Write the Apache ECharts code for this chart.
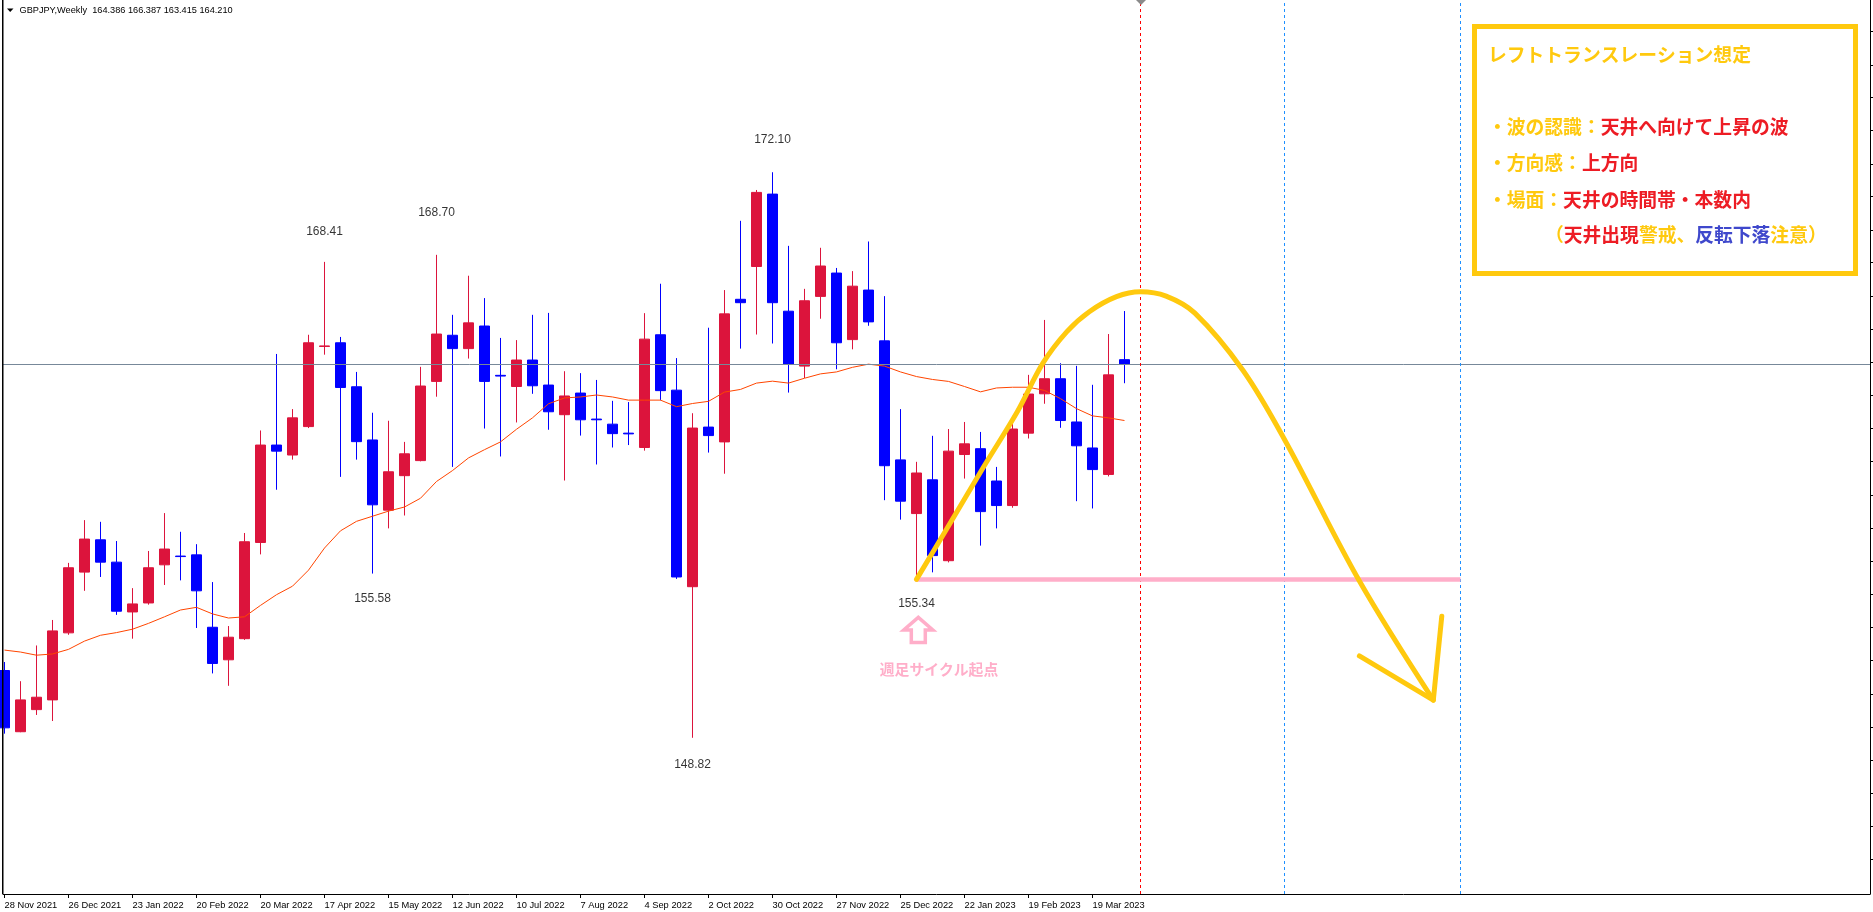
<!DOCTYPE html>
<html><head><meta charset="utf-8">
<script src="https://cdn.jsdelivr.net/npm/echarts@6/dist/echarts.min.js"></script>
<style>html,body{margin:0;padding:0;background:#fff;}#c{width:1873px;height:912px;}</style>
</head><body><div id="c"></div>
<script>
// ---- data (weekly GBPJPY candles, 28 Nov 2021 .. 2 Apr 2023) ----
const opens  = [151.59,149.07,149.98,150.38,153.14,155.64,156.97,156.05,154.00,154.37,155.94,156.30,156.35,153.37,152.03,152.90,156.86,160.87,160.46,161.63,164.93,165.08,163.27,161.08,158.19,159.61,160.23,163.49,165.39,164.84,165.77,163.74,163.28,164.37,163.34,162.12,163.01,161.94,161.73,161.36,160.77,165.41,163.13,155.04,161.61,161.00,166.87,168.22,171.20,166.38,164.12,166.99,167.95,165.21,167.25,165.16,160.26,158.05,159.44,156.11,160.48,160.72,159.39,158.38,161.36,162.98,163.60,161.82,160.75,159.66,164.386];
const highs  = [151.94,151.15,152.62,153.67,156.02,157.78,157.71,156.92,154.98,156.51,158.07,157.30,156.79,155.23,153.42,157.25,161.47,164.62,162.35,165.41,168.41,165.32,163.88,162.20,161.87,161.00,164.09,168.70,166.23,167.84,166.92,165.28,165.19,166.23,166.31,163.91,163.83,163.55,162.69,162.64,166.30,167.51,164.45,162.18,165.70,167.25,170.10,171.37,172.10,169.07,167.30,168.99,168.16,168.03,169.25,167.00,162.35,160.18,161.25,161.53,161.82,161.41,159.97,161.94,163.76,166.02,164.24,164.13,163.35,165.44,166.387];
const lows   = [148.99,149.05,149.76,149.51,153.06,154.87,155.44,153.88,152.90,154.30,155.11,155.30,153.34,151.47,150.96,152.85,156.37,159.03,160.27,161.57,164.59,159.56,160.27,155.58,157.44,157.97,160.20,162.86,159.97,164.43,161.55,160.40,161.80,162.98,161.50,159.41,161.26,160.07,160.77,160.87,160.64,162.71,155.36,148.82,160.56,159.69,164.84,165.42,165.05,163.03,163.63,166.07,163.99,164.81,165.78,158.60,157.80,155.34,155.63,156.04,159.49,156.73,157.44,158.29,161.14,162.57,161.58,158.56,158.26,159.58,163.415];
const closes = [149.23,150.38,150.49,153.22,155.82,157.00,156.05,154.03,154.33,155.82,156.59,156.28,154.87,151.88,152.96,156.89,160.87,160.62,161.99,165.08,164.95,163.24,161.01,158.41,159.77,160.51,163.30,165.44,164.84,165.90,163.49,163.71,164.37,163.31,162.24,162.89,161.91,161.91,161.34,161.33,165.23,163.11,155.44,161.57,161.26,166.27,166.73,171.27,166.73,164.19,166.81,168.24,165.08,167.41,165.94,160.02,158.56,159.72,156.32,160.62,160.92,158.13,158.38,161.53,162.97,163.60,161.88,160.84,159.86,163.76,164.210];
// moving average
const maValues = [152.43,152.35,152.22,152.27,152.46,152.80,153.04,153.15,153.29,153.53,153.80,154.08,154.19,153.92,153.75,153.80,154.27,154.71,155.06,155.72,156.63,157.34,157.73,157.94,158.15,158.32,158.68,159.37,159.82,160.34,160.68,161.00,161.52,161.99,162.57,162.81,162.85,162.93,162.85,162.72,162.72,162.72,162.45,162.58,162.67,163.05,163.16,163.42,163.50,163.42,163.62,163.80,163.88,164.07,164.20,164.12,163.88,163.69,163.57,163.49,163.28,163.06,163.22,163.25,163.25,163.12,162.78,162.37,162.07,161.99,161.88];
const tickIndex  = [0,4,8,12,16,20,24,28,32,36,40,44,48,52,56,60,64,68];
const tickLabels = ['28 Nov 2021','26 Dec 2021','23 Jan 2022','20 Feb 2022','20 Mar 2022','17 Apr 2022','15 May 2022','12 Jun 2022','10 Jul 2022','7 Aug 2022','4 Sep 2022','2 Oct 2022','30 Oct 2022','27 Nov 2022','25 Dec 2022','22 Jan 2023','19 Feb 2023','19 Mar 2023'];
const priceTicks = [177.89,176.52,175.19,173.81,172.44,171.10,169.72,168.38,167.01,165.65,164.28,162.92,161.55,160.19,158.82,157.46,156.09,154.73,153.36,152.00,150.63,149.27,147.90,146.54,145.17,143.81];
const headerText = 'GBPJPY,Weekly  164.386 166.387 163.415 164.210';
const peakIdx   = [20, 27, 48];
const troughIdx = [23, 43, 57];
const lastPrice = 164.210;
const redVLine = 71;
const blueVLines = [80, 91];
// hand-drawn scenario (index, price)
const arcPoints = [[57.0,155.34],[59.1,157.65],[61.2,159.98],[63.3,162.24],[64.9,164.24],[66.4,165.54],[67.8,166.36],[69.5,166.98],[71.0,167.18],[72.6,167.0],[74.4,166.3],[77.4,163.95],[80.0,161.1],[84.7,155.25],[89.3,150.37]];
const arrowHead = [[84.68,152.19],[89.3,150.37],[89.83,153.82]];
const cycleStartIdx = 57;
const supportLine = [[56.9,155.34],[91,155.34]];

// ---- styles ----
const RED='#DC143C', BLUE='#0000FF', GOLD='#FFC90E', PINK='#FFAEC9', TRED='#ED1C24', TBLUE='#3F48CC';
const peakGap = [30.5, 41.8, 32.5];
const troughGap = [25, 26.7, 24.7];
const CJK = '"Noto Sans CJK JP"';

const candleData = opens.map((o,i)=>[i,o,closes[i],lows[i],highs[i]]);
const chart = echarts.init(document.getElementById('c'), null, {renderer:'canvas'});

const option = {
  animation:false,
  backgroundColor:'#fff',
  grid:{left:3,right:3,top:0,bottom:18},
  xAxis:{type:'value',min:-0.09375,max:116.594,
    axisLine:{show:true,onZero:false,lineStyle:{color:'#000',width:1}},
    splitLine:{show:false},
    axisTick:{show:true,customValues:tickIndex,length:4,lineStyle:{color:'#000'}},
    axisLabel:{show:true,customValues:tickIndex,align:'left',margin:7,color:'#000',
      fontFamily:'"Liberation Sans", Arial, sans-serif',fontSize:9.3,
      formatter:(v)=>{const k=tickIndex.indexOf(Math.round(v));return k>=0?tickLabels[k]:'';}}
  },
  yAxis:{type:'value',position:'right',min:142.39,max:179.19,
    axisLine:{show:true,onZero:false,lineStyle:{color:'#000',width:1}},
    splitLine:{show:false},
    axisTick:{show:true,customValues:priceTicks,length:5,lineStyle:{color:'#000'}},
    axisLabel:{show:false}
  },
  series:[
    {type:'line',data:[],z:1,silent:true,
      markLine:{silent:true,symbol:['none','none'],label:{show:false},animation:false,
        data:[
          {yAxis:lastPrice,lineStyle:{color:'#778899',type:'solid',width:1}},
          {xAxis:redVLine,lineStyle:{color:'#FF0000',type:[3,3],width:1}},
          ...blueVLines.map(v=>({xAxis:v,lineStyle:{color:'#1E90FF',type:[3,3],width:1}}))
        ]}
    },
    {type:'candlestick',z:3,barWidth:10,
      dimensions:['idx','open','close','low','high'],
      encode:{x:0,y:[1,2,3,4]},
      data:candleData,
      itemStyle:{color:RED,color0:BLUE,borderColor:RED,borderColor0:BLUE,borderWidth:1}
    },
    {type:'line',z:4,data:maValues.map((v,i)=>[i,v]),showSymbol:false,symbol:'none',
      lineStyle:{color:'#FF4500',width:1},silent:true},
    {type:'line',z:5,data:supportLine,showSymbol:false,symbol:'none',
      lineStyle:{color:PINK,width:4.5},silent:true},
    {type:'line',z:6,data:arcPoints,smooth:0.35,showSymbol:false,symbol:'none',
      lineStyle:{color:GOLD,width:5,cap:'round',join:'round'},silent:true},
    {type:'line',z:6,data:arrowHead,showSymbol:false,symbol:'none',
      lineStyle:{color:GOLD,width:5,cap:'round',join:'round'},silent:true},
    {type:'scatter',z:7,symbolSize:0,silent:true,
      data:peakIdx.map((i,k)=>({value:[i,highs[i]],label:{offset:[0,-peakGap[k]]}})),
      label:{show:true,position:'inside',color:'#000',fontSize:12,fontFamily:'"Liberation Sans", Arial, sans-serif',
        formatter:p=>p.value[1].toFixed(2)}},
    {type:'scatter',z:7,symbolSize:0,silent:true,
      data:troughIdx.map((i,k)=>({value:[i,lows[i]],label:{offset:[0,troughGap[k]]}})),
      label:{show:true,position:'inside',color:'#000',fontSize:12,fontFamily:'"Liberation Sans", Arial, sans-serif',
        formatter:p=>p.value[1].toFixed(2)}}
  ]
};
chart.setOption(option);

// annotations anchored to the cycle start candle
const a = chart.convertToPixel({xAxisIndex:0,yAxisIndex:0},[cycleStartIdx, lows[cycleStartIdx]]);
const ax = a[0]+1.8, ay = a[1]+38;
const fontB = (s)=>'bold '+s+'px '+CJK;
chart.setOption({graphic:[
  // header
  {type:'polygon',shape:{points:[[7,8.5],[13.5,8.5],[10.2,12]]},style:{fill:'#000'},z:100},
  {type:'text',x:19.5,y:10,style:{text:headerText,fill:'#000',font:'9.2px "Liberation Sans", Arial, sans-serif',verticalAlign:'middle'},z:100},
  // left border
  {type:'line',shape:{x1:2.75,y1:0,x2:2.75,y2:894},style:{stroke:'#000',lineWidth:1.5},z:100},
  // chart shift marker
  {type:'polygon',shape:{points:[[1136,0],[1146,0],[1141,5]]},style:{fill:'#8a8a8a'},z:100},
  // pink arrow + text
  {type:'polygon',z:100,shape:{points:[[ax,ay],[ax+14.5,ay+12.5],[ax+7,ay+12.5],[ax+7,ay+25],[ax-7,ay+25],[ax-7,ay+12.5],[ax-14.5,ay+12.5]]},
    style:{fill:'#fff',stroke:PINK,lineWidth:3.5,lineJoin:'miter'}},
  {type:'text',z:100,x:a[0]+22.5,y:a[1]+89.7,style:{text:'週足サイクル起点',fill:PINK,font:fontB(14.8),align:'center',verticalAlign:'middle'}},
  // scenario box
  {type:'rect',z:100,shape:{x:1474.5,y:26.5,width:381,height:247},style:{fill:'#fff',stroke:GOLD,lineWidth:5}},
  {type:'text',z:101,x:1488,y:55,style:{text:'レフトトランスレーション想定',fill:GOLD,font:fontB(18.8),verticalAlign:'middle'}},
  {type:'text',z:101,x:1488,y:126.7,style:{text:'{g|・波の認識：}{r|天井へ向けて上昇の波}',verticalAlign:'middle',
    rich:{g:{fill:GOLD,font:fontB(18.8)},r:{fill:TRED,font:fontB(18.8)}}}},
  {type:'text',z:101,x:1488,y:163.3,style:{text:'{g|・方向感：}{r|上方向}',verticalAlign:'middle',
    rich:{g:{fill:GOLD,font:fontB(18.8)},r:{fill:TRED,font:fontB(18.8)}}}},
  {type:'text',z:101,x:1488,y:200,style:{text:'{g|・場面：}{r|天井の時間帯・本数内}',verticalAlign:'middle',
    rich:{g:{fill:GOLD,font:fontB(18.8)},r:{fill:TRED,font:fontB(18.8)}}}},
  {type:'text',z:101,x:1545,y:235,style:{text:'{g|（}{r|天井出現}{g|警戒、}{b|反転下落}{g|注意）}',verticalAlign:'middle',
    rich:{g:{fill:GOLD,font:fontB(18.8)},r:{fill:TRED,font:fontB(18.8)},b:{fill:TBLUE,font:fontB(18.8)}}}}
]});
</script></body></html>
